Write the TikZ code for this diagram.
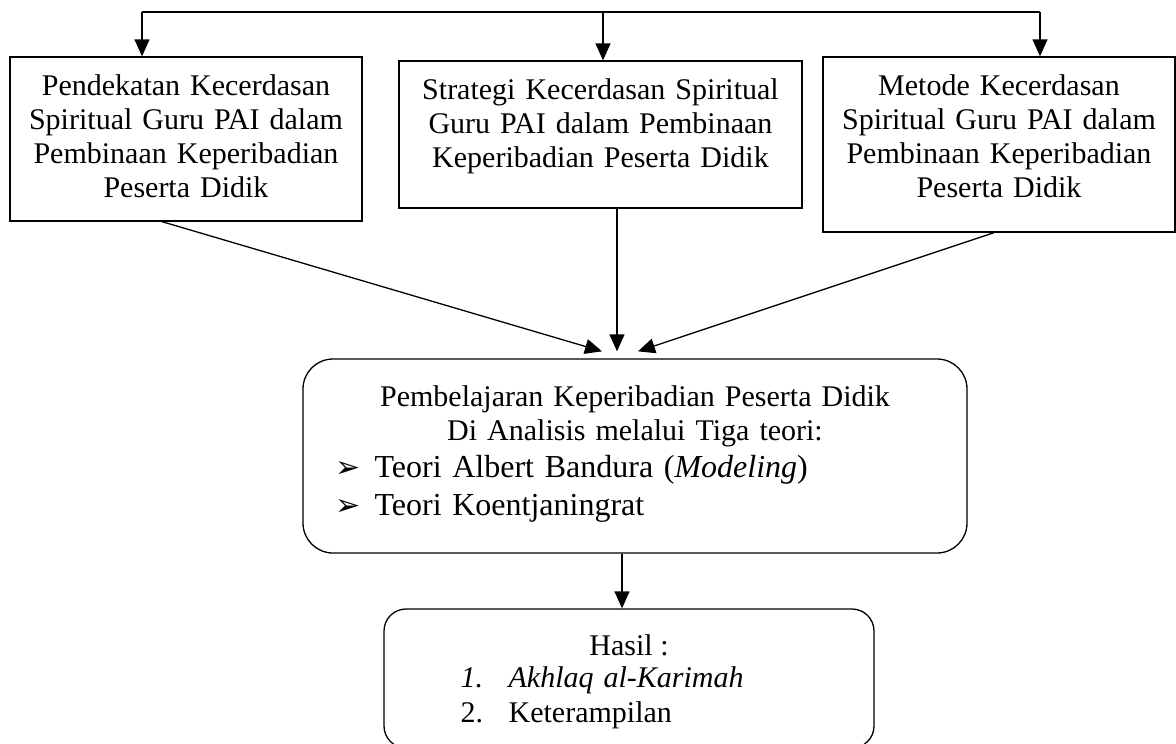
\documentclass[tikz,border=0pt]{standalone}
\usepackage{fontspec}
\setmainfont{Liberation Serif}
\newfontfamily\symfont{DejaVu Sans}
\usetikzlibrary{arrows.meta}
\newcommand\itembullet{\makebox[39pt][l]{\symfont\fontsize{30}{30}\selectfont ➢}}
\begin{document}
\begin{tikzpicture}[x=1pt,y=-1pt,line width=1.3pt,
  arr/.style={-{Triangle[length=17pt,width=15pt]}},
  sqbox/.style={draw,rectangle,inner sep=0pt},
  rbox/.style={draw,rectangle,inner sep=0pt},
  txt/.style={anchor=base,align=center,inner sep=0pt,font=\fontsize{30}{34}\selectfont}]
\useasboundingbox (0,0) rectangle (1176,744);
\clip (0,0) rectangle (1176,744);

% upper row of boxes
\node[sqbox,minimum width=352pt,minimum height=164pt] (L) at (186,139) {};
\node[sqbox,minimum width=403pt,minimum height=147pt] (M) at (600.5,134.5) {};
\node[sqbox,minimum width=352pt,minimum height=175pt] (R) at (999,144.5) {};

\node[txt,text width=352pt] (Lt) at (186,95)
  {Pendekatan Kecerdasan\\Spiritual Guru PAI dalam\\Pembinaan Keperibadian\\Peserta Didik};
\node[txt,text width=403pt] (Mt) at (600.5,99)
  {Strategi Kecerdasan Spiritual\\Guru PAI dalam Pembinaan\\Keperibadian Peserta Didik};
\node[txt,text width=352pt] (Rt) at (999,95)
  {Metode Kecerdasan\\Spiritual Guru PAI dalam\\Pembinaan Keperibadian\\Peserta Didik};

% analysis box
\node[rbox,rounded corners=30pt,minimum width=664pt,minimum height=194pt] (C) at (635,456) {};
\node[txt,text width=664pt] (Ch) at (635,406)
  {Pembelajaran Keperibadian Peserta Didik\\Di Analisis melalui Tiga teori:};
\node[txt,anchor=base west,align=left,text width=580pt,font=\fontsize{32}{38}\selectfont] (Ci) at (335,477)
  {\itembullet Teori Albert Bandura (\textit{Modeling})\\\itembullet Teori Koentjaningrat};

% result box
\node[rbox,rounded corners=22pt,minimum width=490pt,minimum height=139pt] (H) at (629,678.5) {};
\node[txt] (Ht) at (629,655) {Hasil :};
\node[txt,anchor=base west,align=left,text width=400pt,font=\fontsize{30}{35}\selectfont] (Hi) at (460,687)
  {\makebox[48pt][l]{\textit{1.}}\textit{Akhlaq al-Karimah}\\\makebox[48pt][l]{2.}Keterampilan};

% distribution line on top
\coordinate (tl) at ([xshift=-44pt]L.north |- 0,12);
\coordinate (tm) at ([xshift=2.5pt]M.north |- 0,12);
\coordinate (tr) at ([xshift=41pt]R.north |- 0,12);
\draw (tl) -- (tr);
\draw[arr] (tl) -- (tl |- L.north);
\draw[arr] (tm) -- (tm |- M.north);
\draw[arr] (tr) -- (tr |- R.north);

% converging connectors
\coordinate (Lout) at ([xshift=-24pt]L.south);
\coordinate (Mout) at ([xshift=16.5pt]M.south);
\coordinate (Rout) at ([xshift=-5pt]R.south);
\coordinate (Lin) at ([xshift=-33pt,yshift=7pt]C.north);
\coordinate (Min) at ([xshift=-18pt,yshift=7pt]C.north);
\coordinate (Rin) at ([xshift=3pt,yshift=7pt]C.north);
\draw[arr] (Lout) -- (Lin);
\draw[arr] (Mout) -- (Min);
\draw[arr] (Rout) -- (Rin);

% to the result
\coordinate (Cout) at ([xshift=-13pt]C.south);
\draw[arr] (Cout) -- (Cout |- H.north);
\end{tikzpicture}
\end{document}
